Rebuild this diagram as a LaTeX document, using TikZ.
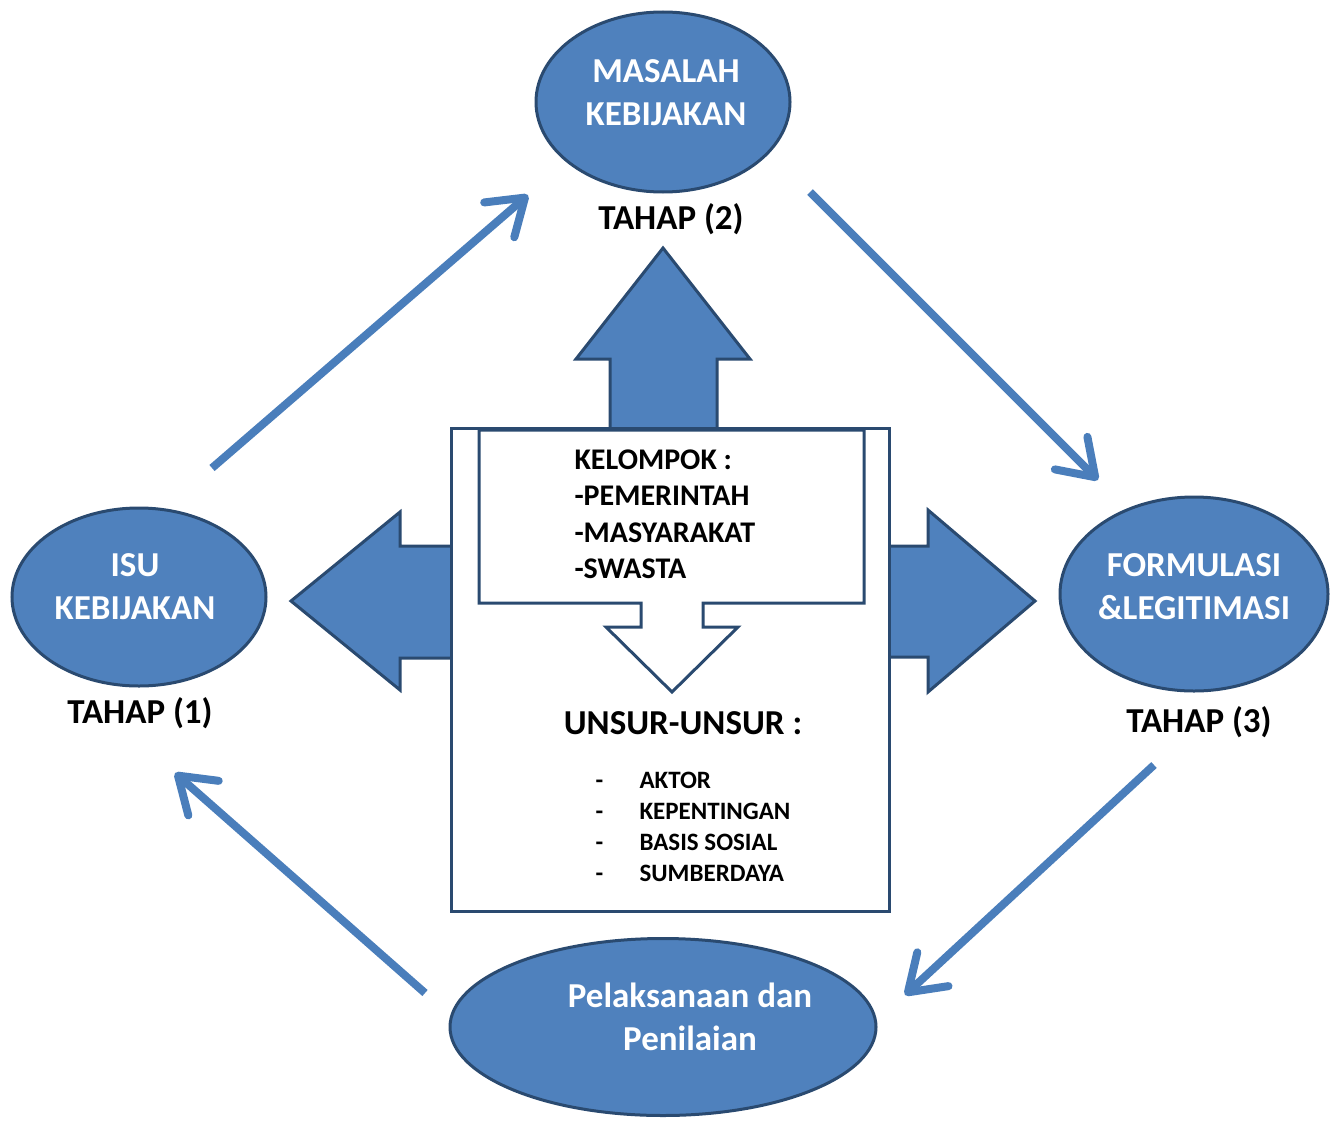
\documentclass[tikz,border=0pt]{standalone}
\usepackage{fontspec}
\setmainfont{Carlito}
\usetikzlibrary{shapes.geometric,arrows.meta}
\definecolor{blfill}{HTML}{4F81BD}
\definecolor{bledge}{HTML}{2A4A70}
\definecolor{bline}{HTML}{4A7EBB}
\tikzset{
  stage/.style={ellipse,fill=blfill,draw=bledge,line width=3pt,inner sep=0pt},
  stagetxt/.style={text=white,font=\bfseries\fontsize{35}{43}\selectfont,align=center},
  tahap/.style={font=\bfseries\fontsize{35}{40}\selectfont},
  flow/.style={draw=bline,line width=8pt,-{Straight Barb[length=34pt,width=46pt,round]}},
  bigarrow/.style={fill=blfill,draw=bledge,line width=3pt,line join=miter},
  boxline/.style={draw=bledge,line width=3pt,fill=white},
  grp/.style={font=\bfseries\fontsize{30}{36.5}\selectfont,align=left,anchor=north west},
  item/.style={font=\bfseries\fontsize{25}{31}\selectfont,anchor=base west}
}
\begin{document}
\begin{tikzpicture}[x=1pt,y=-1pt]
\useasboundingbox (0,0) rectangle (1332,1121);

% stages
\node[stage,minimum width=254pt,minimum height=180pt] (masalah) at (663,102) {};
\node[stage,minimum width=254pt,minimum height=178pt] (isu) at (139,597) {};
\node[stage,minimum width=268pt,minimum height=194pt] (formulasi) at (1194,594) {};
\node[stage,minimum width=426pt,minimum height=177pt] (pelaksanaan) at (663,1027) {};

\node[stagetxt] (tmasalah) at (666,93) {MASALAH\\KEBIJAKAN};
\node[stagetxt] (tisu) at (135,587) {ISU\\KEBIJAKAN};
\node[stagetxt] (tformulasi) at (1194,587) {FORMULASI\\\&LEGITIMASI};
\node[stagetxt] (tpelaksanaan) at (690,1017) {Pelaksanaan dan\\Penilaian};

\node[tahap] (tahap1) at (140,713) {TAHAP (1)};
\node[tahap] (tahap2) at (671,219) {TAHAP (2)};
\node[tahap] (tahap3) at (1199,722) {TAHAP (3)};

% cycle connectors
\coordinate (c1a) at (212,468); \coordinate (c1b) at (528,195);
\coordinate (c2a) at (810,192); \coordinate (c2b) at (1098,480);
\coordinate (c3a) at (1154,765); \coordinate (c3b) at (905,995);
\coordinate (c4a) at (425,993); \coordinate (c4b) at (175,773);
\draw[flow] (c1a) -- (c1b);
\draw[flow] (c2a) -- (c2b);
\draw[flow] (c3a) -- (c3b);
\draw[flow] (c4a) -- (c4b);

% block arrows out of the central box
\draw[bigarrow] (610,440) -- (610,359) -- (576,359) -- (663,248) -- (750,359) -- (717,359) -- (717,440) -- cycle;
\draw[bigarrow] (460,546) -- (400,546) -- (400,512) -- (291,601) -- (400,690) -- (400,658) -- (460,658) -- cycle;
\draw[bigarrow] (880,546) -- (928,546) -- (928,510) -- (1035,601) -- (928,692) -- (928,657) -- (880,657) -- cycle;

% central box
\draw[boxline] (451,428) rectangle (889,911);
\draw[boxline] (479,430) -- (864,430) -- (864,603) -- (703,603) -- (703,627) -- (738,627)
  -- (672,692) -- (606,627) -- (641,627) -- (641,603) -- (479,603) -- cycle;

\node[grp] (kelompok) at (571,446) {KELOMPOK :\\-PEMERINTAH\\-MASYARAKAT\\-SWASTA};
\node[font=\bfseries\fontsize{35}{40}\selectfont] (unsur) at (683,723) {UNSUR-UNSUR :};

\node[item] (d1) at (592,788) {-}; \node[item] (i1) at (636,788) {AKTOR};
\node[item] (d2) at (592,819) {-}; \node[item] (i2) at (636,819) {KEPENTINGAN};
\node[item] (d3) at (592,850) {-}; \node[item] (i3) at (636,850) {BASIS SOSIAL};
\node[item] (d4) at (592,881) {-}; \node[item] (i4) at (636,881) {SUMBERDAYA};
\end{tikzpicture}
\end{document}
